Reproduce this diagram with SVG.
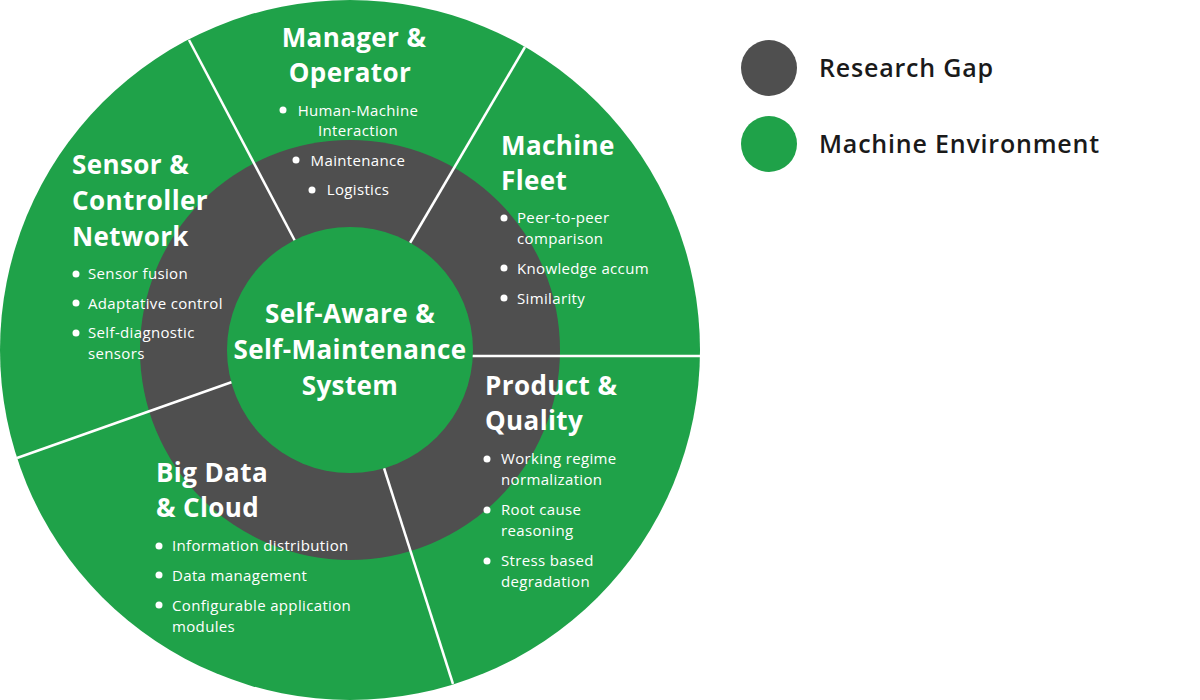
<svg xmlns="http://www.w3.org/2000/svg" width="1200" height="700" viewBox="0 0 1200 700">
<style>
.h{font-family:"Open Sans","Liberation Sans",sans-serif;font-weight:700;font-size:26px;letter-spacing:0.4px;fill:#fff}
.t{font-family:"Open Sans","Liberation Sans",sans-serif;font-weight:500;font-size:15px;letter-spacing:0.35px;fill:#fff}
.lg{font-family:"Open Sans","Liberation Sans",sans-serif;font-weight:600;font-size:25px;letter-spacing:0.8px;fill:#1a1a1a}
.b{fill:#fff}
.div{stroke:#fff;stroke-width:2.5;fill:none}
.green{fill:#1fa249}
.gap{fill:#4f4f4f}
</style>
<rect width="1200" height="700" fill="#fff"/>
<g id="rings">
<circle class="green" cx="350" cy="350" r="350"/>
<circle class="gap" cx="350" cy="350" r="210"/>
</g>
<g id="connectors">
<line class="div" x1="189" y1="40" x2="295" y2="241"/>
<line class="div" x1="525" y1="47" x2="410" y2="243"/>
<line class="div" x1="472" y1="356" x2="700" y2="356"/>
<line class="div" x1="384" y1="468" x2="453" y2="684"/>
<line class="div" x1="232" y1="382" x2="17" y2="458"/>
</g>
<g id="center">
<circle class="green" cx="350" cy="350" r="123"/>
<text class="h" text-anchor="middle"><tspan x="350" y="323">Self-Aware &amp;</tspan><tspan x="350" y="359">Self-Maintenance</tspan><tspan x="350" y="395">System</tspan></text>
</g>
<g id="manager-operator">
<text class="h" text-anchor="middle"><tspan x="354" y="47">Manager &amp;</tspan><tspan x="350" y="82">Operator</tspan></text>
<circle class="b" cx="283" cy="110" r="3.5"/>
<text class="t" text-anchor="middle"><tspan x="358" y="116">Human-Machine</tspan><tspan x="358" y="136">Interaction</tspan></text>
<circle class="b" cx="296" cy="160" r="3.5"/>
<text class="t" text-anchor="middle" x="358" y="166">Maintenance</text>
<circle class="b" cx="312" cy="190" r="3.5"/>
<text class="t" text-anchor="middle" x="358" y="195">Logistics</text>
</g>
<g id="sensor-controller">
<text class="h"><tspan x="72" y="174">Sensor &amp;</tspan><tspan x="72" y="210">Controller</tspan><tspan x="72" y="246">Network</tspan></text>
<circle class="b" cx="76" cy="274" r="3.5"/>
<text class="t" x="88" y="279">Sensor fusion</text>
<circle class="b" cx="76" cy="303" r="3.5"/>
<text class="t" x="88" y="309">Adaptative control</text>
<circle class="b" cx="76" cy="333" r="3.5"/>
<text class="t"><tspan x="88" y="338">Self-diagnostic</tspan><tspan x="88" y="359">sensors</tspan></text>
</g>
<g id="machine-fleet">
<text class="h"><tspan x="501" y="155">Machine</tspan><tspan x="501" y="190">Fleet</tspan></text>
<circle class="b" cx="504" cy="218" r="3.5"/>
<text class="t"><tspan x="517" y="223">Peer-to-peer</tspan><tspan x="517" y="244">comparison</tspan></text>
<circle class="b" cx="504" cy="268" r="3.5"/>
<text class="t" x="517" y="274">Knowledge accum</text>
<circle class="b" cx="504" cy="298" r="3.5"/>
<text class="t" x="517" y="304">Similarity</text>
</g>
<g id="product-quality">
<text class="h"><tspan x="485" y="395">Product &amp;</tspan><tspan x="485" y="430">Quality</tspan></text>
<circle class="b" cx="487" cy="459" r="3.5"/>
<text class="t"><tspan x="501" y="464">Working regime</tspan><tspan x="501" y="485">normalization</tspan></text>
<circle class="b" cx="487" cy="510" r="3.5"/>
<text class="t"><tspan x="501" y="515">Root cause</tspan><tspan x="501" y="536">reasoning</tspan></text>
<circle class="b" cx="487" cy="561" r="3.5"/>
<text class="t"><tspan x="501" y="566">Stress based</tspan><tspan x="501" y="587">degradation</tspan></text>
</g>
<g id="big-data-cloud">
<text class="h"><tspan x="156" y="482">Big Data</tspan><tspan x="156" y="517">&amp; Cloud</tspan></text>
<circle class="b" cx="159" cy="546" r="3.5"/>
<text class="t" x="172" y="551">Information distribution</text>
<circle class="b" cx="159" cy="575" r="3.5"/>
<text class="t" x="172" y="581">Data management</text>
<circle class="b" cx="159" cy="605" r="3.5"/>
<text class="t"><tspan x="172" y="611">Configurable application</tspan><tspan x="172" y="632">modules</tspan></text>
</g>
<g id="legend">
<circle class="gap" cx="769" cy="68" r="28"/>
<text class="lg" x="819" y="77">Research Gap</text>
<circle class="green" cx="769" cy="144" r="28"/>
<text class="lg" x="819" y="153">Machine Environment</text>
</g>
</svg>
